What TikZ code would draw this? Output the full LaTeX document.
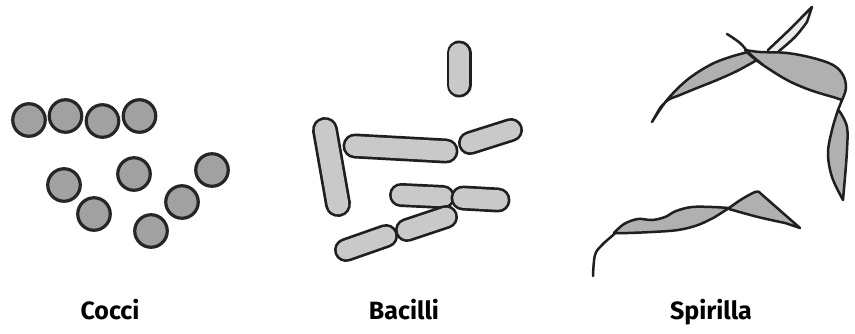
\documentclass[tikz,border=0pt]{standalone}
\usepackage{fontspec}
\setmainfont{Fira Sans}
\begin{document}
\begin{tikzpicture}[x=1pt,y=-1pt,
  coccus/.style={circle,inner sep=0pt,minimum size=32.5pt,line width=3.2pt,draw=black!85,fill=black!37},
  outline/.style={draw=black!88,line width=2.5pt,line join=round,line cap=round},
  ribbon/.style={outline,fill=black!31},
  label/.style={font=\bfseries\fontsize{25}{28}\selectfont,anchor=base}]
\useasboundingbox[fill=white] (0,0) rectangle (855,333);

% ---------- cocci ----------
\node[coccus] (c1) at (29,120) {};
\node[coccus] (c2) at (65.5,116) {};
\node[coccus] (c3) at (102.5,121) {};
\node[coccus] (c4) at (139.5,116) {};
\node[coccus] (c5) at (64,185) {};
\node[coccus] (c6) at (94,214) {};
\node[coccus] (c7) at (134,174) {};
\node[coccus] (c8) at (151,231) {};
\node[coccus] (c9) at (182,202) {};
\node[coccus] (c10) at (212,170) {};

% ---------- bacilli: capsules drawn as a dark round-capped band with a lighter core ----------
\newcommand\rodshape[3]{%
  \draw[line width=#3pt,line cap=round,black!88] #1 -- #2;
  \draw[line width=#3pt-5.4pt,line cap=round,black!21] #1 -- #2;}
\rodshape{(459,53)}{(459,85)}{25}
\rodshape{(325,130)}{(338,204)}{26}
\rodshape{(355,146)}{(446,151)}{25}
\rodshape{(470,143)}{(511,130)}{24}
\rodshape{(401,195)}{(443,197)}{24}
\rodshape{(463,198)}{(498,200)}{25}
\rodshape{(346,250)}{(386,236)}{24}
\rodshape{(407,230)}{(446,217)}{24}

% ---------- spirilla ----------
% narrow spike rising out of the twist
\draw[outline,fill=black!8] plot[smooth,tension=0.6] coordinates {(768,50) (787,32) (802,17) (812,7)}
  -- plot[smooth,tension=0.6] coordinates {(807,22) (795,37) (779,51)};
% upper-left blade
\draw[ribbon] plot[smooth,tension=0.6] coordinates {(652,122) (667,100) (687,80) (710,65) (730,57) (752,51)}
  -- plot[smooth,tension=0.6] coordinates {(757,60) (737,71) (717,80) (697,88) (680,95) (668,100) (660,108)} -- cycle;
% upper-right blade
\draw[ribbon] plot[smooth,tension=0.6] coordinates {(745,50) (760,52) (787,53) (813,58) (833,65) (843,75) (846,88) (842,100)}
  -- plot[smooth,tension=0.6] coordinates {(833,97) (810,90) (787,80) (763,65) (750,55)} -- cycle;
% thin strand crossing over the twist
\draw[outline] plot[smooth,tension=0.6] coordinates {(727,34) (740,43) (750,54) (763,65)};
% kink and hanging blade
\draw[outline] (842,100) -- (838,110);
\draw[ribbon] plot[smooth,tension=0.6] coordinates {(838,110) (832,130) (828,153) (832,177) (843,200)}
  -- plot[smooth,tension=0.6] coordinates {(845,177) (847,150) (847,127) (840,112)} -- cycle;
% lower spirillum: tail, wavy ribbon and triangular end
\draw[outline] plot[smooth,tension=0.6] coordinates {(593,276) (595,255) (602,245) (612,236) (620,228)};
\draw[ribbon] plot[smooth,tension=0.6] coordinates {(614,233) (624,224) (638,219) (652,220) (665,217) (676,211) (692,207) (712,207) (729,208)}
  -- plot[smooth,tension=0.6] coordinates {(715,217) (698,225) (678,230) (652,232) (628,233)} -- cycle;
\draw[ribbon] plot[smooth,tension=0.6] coordinates {(729,208) (742,199) (755,192) (759,192)}
  -- (800,228)
  -- plot[smooth,tension=0.6] coordinates {(785,223) (758,217) (729,209)} -- cycle;

% ---------- labels ----------
\node[label] (lc) at (110,319) {Cocci};
\node[label] (lb) at (404,319) {Bacilli};
\node[label] (ls) at (711,319) {Spirilla};
\end{tikzpicture}
\end{document}
